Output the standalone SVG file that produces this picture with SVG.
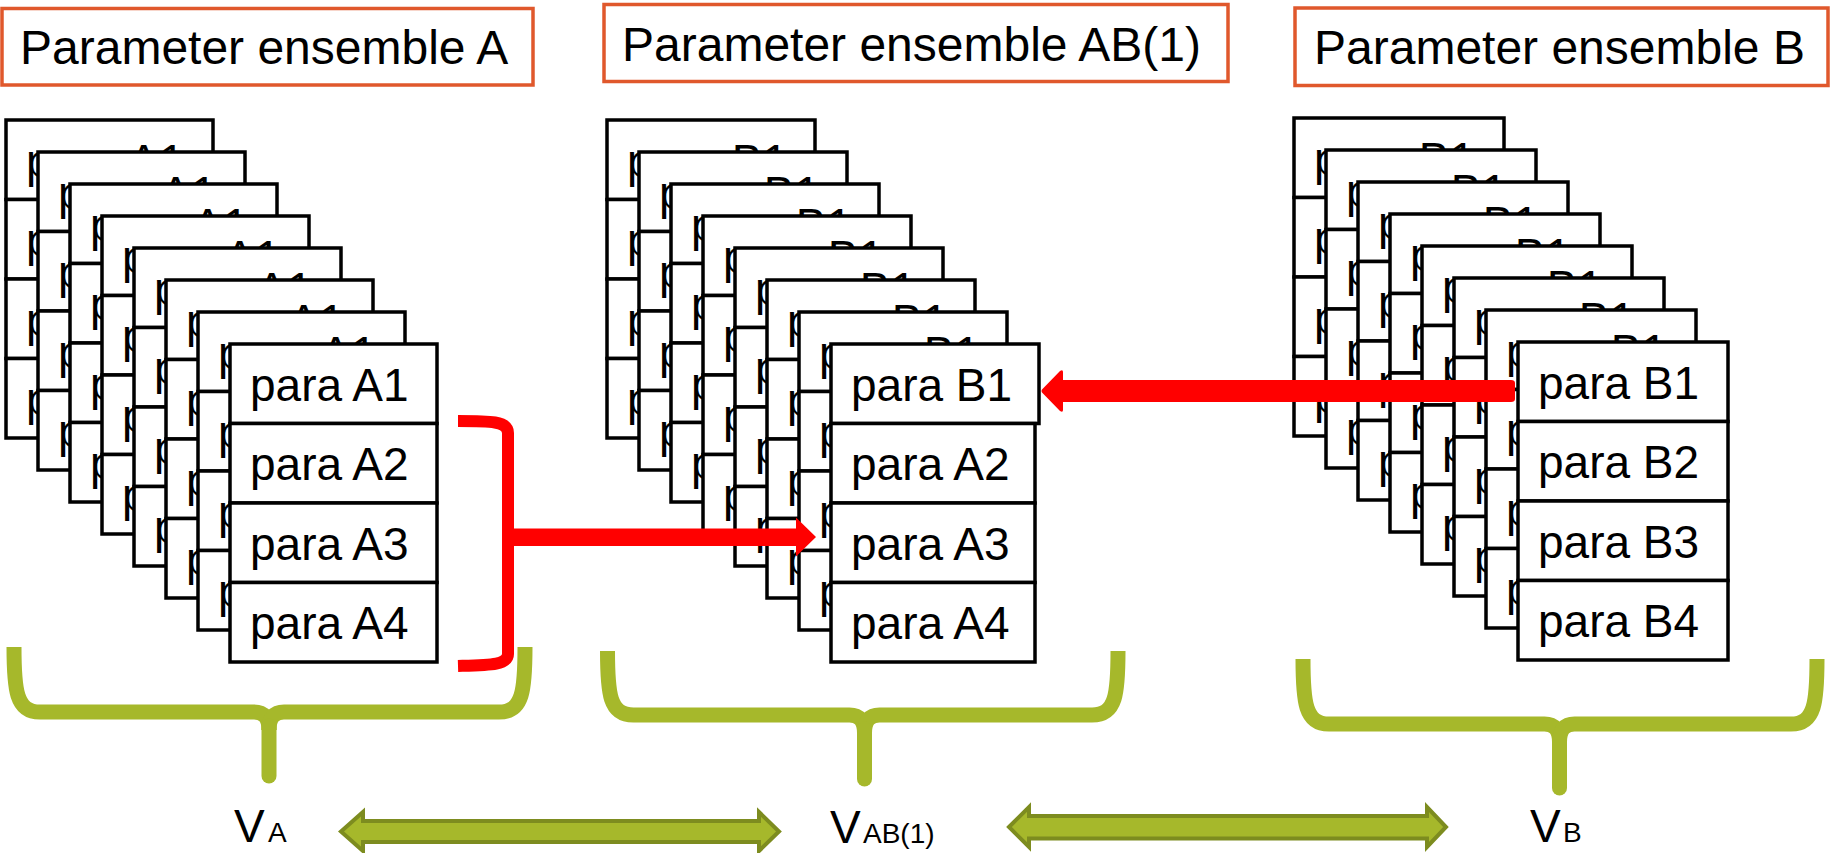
<svg xmlns="http://www.w3.org/2000/svg" xmlns:xlink="http://www.w3.org/1999/xlink" width="1831" height="853" viewBox="0 0 1831 853">
<style>
.ttl{fill:#fff;stroke:#E0582C;stroke-width:3.5}
.tt{font-family:"Liberation Sans",Arial,sans-serif;font-size:48px;fill:#000}
.cell{fill:#fff;stroke:#000;stroke-width:3.5}
.ct{font-family:"Liberation Sans",Arial,sans-serif;font-size:46px;fill:#000}
.brace{fill:none;stroke:#A6B82B;stroke-width:15}
.spike{fill:none;stroke:#A6B82B;stroke-width:15;stroke-linecap:round}
.dbl{fill:#A6B82B;stroke:#7D8C1F;stroke-width:4;stroke-linejoin:miter}
.red{fill:#FF0000}
.vl{font-family:"Liberation Sans",Arial,sans-serif;font-size:46px;fill:#000}
.vs{font-size:28px}
</style>
<defs>
<g id="cardA">
<rect class="cell" x="0" y="0" width="207" height="79.5"/><text class="ct" x="20" y="56.5">para A1</text>
<rect class="cell" x="0" y="79.5" width="207" height="79.5"/><text class="ct" x="20" y="136">para A2</text>
<rect class="cell" x="0" y="159" width="207" height="79.5"/><text class="ct" x="20" y="215.5">para A3</text>
<rect class="cell" x="0" y="238.5" width="207" height="79.5"/><text class="ct" x="20" y="295">para A4</text>
</g>
<g id="cardAB">
<rect class="cell" x="0" y="0" width="208" height="79.5"/><text class="ct" x="20" y="56.5">para B1</text>
<rect class="cell" x="0" y="79.5" width="204" height="79.5"/><text class="ct" x="20" y="136">para A2</text>
<rect class="cell" x="0" y="159" width="204" height="79.5"/><text class="ct" x="20" y="215.5">para A3</text>
<rect class="cell" x="0" y="238.5" width="204" height="79.5"/><text class="ct" x="20" y="295">para A4</text>
</g>
<g id="cardB">
<rect class="cell" x="0" y="0" width="210" height="79.5"/><text class="ct" x="20" y="56.5">para B1</text>
<rect class="cell" x="0" y="79.5" width="210" height="79.5"/><text class="ct" x="20" y="136">para B2</text>
<rect class="cell" x="0" y="159" width="210" height="79.5"/><text class="ct" x="20" y="215.5">para B3</text>
<rect class="cell" x="0" y="238.5" width="210" height="79.5"/><text class="ct" x="20" y="295">para B4</text>
</g>
</defs>
<rect x="0" y="0" width="1831" height="853" fill="#fff"/>

<g id="title-A">
<rect class="ttl" x="2" y="8.5" width="531" height="76.5"/>
<text class="tt" x="20" y="64">Parameter ensemble A</text>
</g>
<g id="title-AB1">
<rect class="ttl" x="604" y="4.5" width="624" height="77"/>
<text class="tt" x="622" y="60.5">Parameter ensemble AB(1)</text>
</g>
<g id="title-B">
<rect class="ttl" x="1295" y="8" width="533" height="77.5"/>
<text class="tt" x="1314" y="63.5">Parameter ensemble B</text>
</g>

<g id="stack-A">
<use xlink:href="#cardA" transform="translate(6,120)"/>
<use xlink:href="#cardA" transform="translate(38,152)"/>
<use xlink:href="#cardA" transform="translate(70,184)"/>
<use xlink:href="#cardA" transform="translate(102,216)"/>
<use xlink:href="#cardA" transform="translate(134,248)"/>
<use xlink:href="#cardA" transform="translate(166,280)"/>
<use xlink:href="#cardA" transform="translate(198,312)"/>
<use xlink:href="#cardA" transform="translate(230,344)"/>
</g>
<g id="stack-AB1">
<use xlink:href="#cardAB" transform="translate(607,120)"/>
<use xlink:href="#cardAB" transform="translate(639,152)"/>
<use xlink:href="#cardAB" transform="translate(671,184)"/>
<use xlink:href="#cardAB" transform="translate(703,216)"/>
<use xlink:href="#cardAB" transform="translate(735,248)"/>
<use xlink:href="#cardAB" transform="translate(767,280)"/>
<use xlink:href="#cardAB" transform="translate(799,312)"/>
<use xlink:href="#cardAB" transform="translate(831,344)"/>
</g>
<g id="stack-B">
<use xlink:href="#cardB" transform="translate(1294,118)"/>
<use xlink:href="#cardB" transform="translate(1326,150)"/>
<use xlink:href="#cardB" transform="translate(1358,182)"/>
<use xlink:href="#cardB" transform="translate(1390,214)"/>
<use xlink:href="#cardB" transform="translate(1422,246)"/>
<use xlink:href="#cardB" transform="translate(1454,278)"/>
<use xlink:href="#cardB" transform="translate(1486,310)"/>
<use xlink:href="#cardB" transform="translate(1518,342)"/>
</g>

<g id="brace-A">
<path class="brace" d="M14,647 C14,690 16,712 40,712 L254,712 Q269,712 269,730"/>
<path class="brace" d="M525,647 C525,690 523,712 499,712 L284,712 Q269,712 269,730"/>
<path class="spike" d="M269,726 L269,776"/>
</g>
<g id="brace-AB1">
<path class="brace" d="M607.5,651 C607.5,694 609.5,715 633.5,715 L849.5,715 Q864.5,715 864.5,733"/>
<path class="brace" d="M1118,651 C1118,694 1116,715 1092,715 L879.5,715 Q864.5,715 864.5,733"/>
<path class="spike" d="M864.5,729 L864.5,779"/>
</g>
<g id="brace-B">
<path class="brace" d="M1303,659 C1303,702 1305,724 1329,724 L1544.5,724 Q1559.5,724 1559.5,742"/>
<path class="brace" d="M1817,659 C1817,702 1815,724 1791,724 L1574.5,724 Q1559.5,724 1559.5,742"/>
<path class="spike" d="M1559.5,738 L1559.5,788"/>
</g>

<g id="label-VA">
<text class="vl" x="234" y="842">V<tspan class="vs" x="268">A</tspan></text>
</g>
<g id="label-VAB1">
<text class="vl" x="830" y="843">V<tspan class="vs" x="863">AB(1)</tspan></text>
</g>
<g id="label-VB">
<text class="vl" x="1530" y="842">V<tspan class="vs" x="1563">B</tspan></text>
</g>

<g id="connectors">
<path d="M458,421 C490,421 508,421 508,433 L508,654 C508,665 490,665 458,666" fill="none" stroke="#FF0000" stroke-width="12"/>
<polygon class="red" points="508,528.5 796,528.5 796,517.5 816,537 796,556.5 796,546 508,546"/>
<path class="red" d="M1515,383 L1515,399 Q1515,402 1511,402 L1063,402 L1063,410 Q1063,413 1060,411 L1042,392.5 Q1041,391 1042,389.5 L1060,371 Q1063,369 1063,372 L1063,380 L1511,380 Q1515,380 1515,383 Z"/>
<polygon class="dbl" points="341,831.5 363,812 363,821 759,821 759,812 779,831.5 759,851 759,842 363,842 363,851"/>
<polygon class="dbl" points="1009,827 1029,807 1029,816 1427,816 1427,807 1446,827 1427,847 1427,838.5 1029,838.5 1029,847"/>
</g>
</svg>
